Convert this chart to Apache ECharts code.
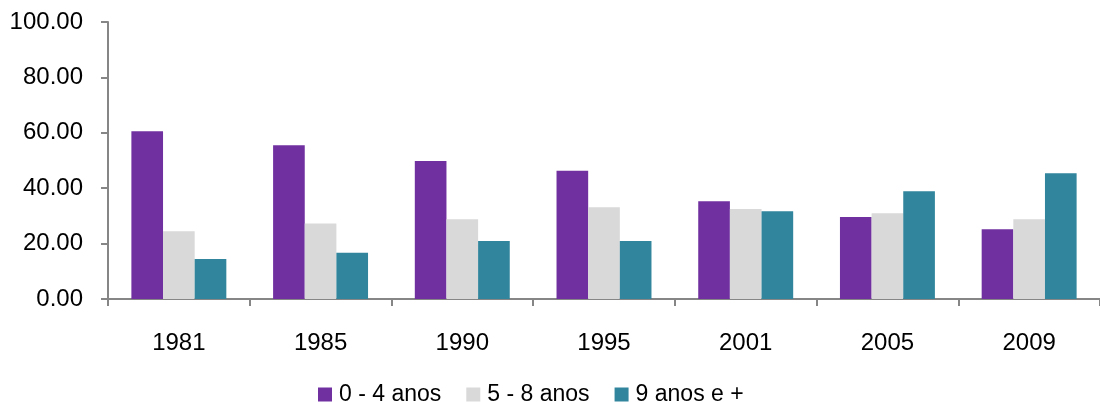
<!DOCTYPE html>
<html>
<head>
<meta charset="utf-8">
<script src="https://cdn.jsdelivr.net/npm/echarts@6/dist/echarts.min.js"></script>
<style>
  html, body { margin: 0; padding: 0; background: #fff; }
  #chart { width: 1100px; height: 402px; }
</style>
</head>
<body>
<div id="chart"></div>
<script>
const years = ['1981', '1985', '1990', '1995', '2001', '2005', '2009'];
const seriesNames = ['0 - 4 anos', '5 - 8 anos', '9 anos e +'];
const group0to4 = [60.6, 55.5, 49.8, 46.3, 35.3, 29.6, 25.2];
const group5to8 = [24.5, 27.3, 28.8, 33.1, 32.5, 31.0, 28.8];
const group9plus = [14.4, 16.7, 20.9, 20.9, 31.7, 38.9, 45.4];
const colors = ['#7030a0', '#d9d9d9', '#31859c'];

const fontFamily = '"Liberation Sans", Arial, sans-serif';
const axisGrey = '#868686';

const chart = echarts.init(document.getElementById('chart'));

const makeSeries = (name, data) => ({
  name,
  type: 'bar',
  data,
  barGap: '0%',
  barCategoryGap: '33%',
  animation: false,
});

chart.setOption({
  color: colors,
  textStyle: { fontFamily },
  grid: { left: 108, top: 22, width: 995, height: 277 },
  legend: {
    top: 383,
    left: 318,
    padding: 0,
    itemWidth: 14,
    itemHeight: 14,
    itemGap: 25,
    icon: 'rect',
    textStyle: { fontSize: 23, color: '#000', fontFamily, padding: [0, 0, 0, 2] },
    data: seriesNames,
  },
  xAxis: {
    type: 'category',
    data: years,
    axisLine: { lineStyle: { color: axisGrey, width: 2 } },
    axisTick: { show: true, length: 7, lineStyle: { color: axisGrey, width: 2 } },
    axisLabel: { fontSize: 24, color: '#000', margin: 32 },
  },
  yAxis: {
    type: 'value',
    min: 0,
    max: 100,
    interval: 20,
    splitLine: { show: false },
    axisLine: { show: true, lineStyle: { color: axisGrey, width: 2 } },
    axisTick: { show: true, length: 7, lineStyle: { color: axisGrey, width: 2 } },
    axisLabel: {
      fontSize: 24,
      color: '#000',
      margin: 25,
      formatter: (v) => v.toFixed(2),
    },
  },
  series: [
    makeSeries(seriesNames[0], group0to4),
    makeSeries(seriesNames[1], group5to8),
    makeSeries(seriesNames[2], group9plus),
  ],
});
</script>
</body>
</html>
